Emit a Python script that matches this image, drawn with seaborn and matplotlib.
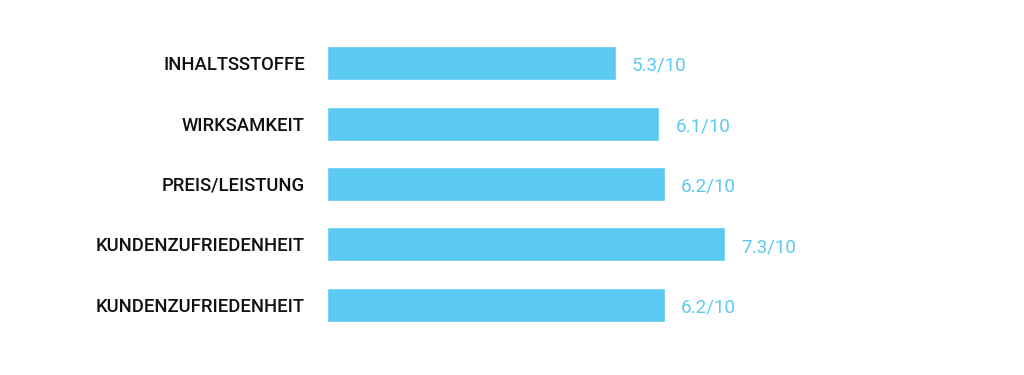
import matplotlib
matplotlib.use("Agg")
import matplotlib.pyplot as plt
import seaborn as sns
import pandas as pd

categories = ["INHALTSSTOFFE", "WIRKSAMKEIT", "PREIS/LEISTUNG",
              "KUNDENZUFRIEDENHEIT", "KUNDENZUFRIEDENHEIT"]
scores = [5.3, 6.1, 6.2, 7.3, 6.2]
value_labels = ["5.3/10", "6.1/10", "6.2/10", "7.3/10", "6.2/10"]

BAR = "#5BC9F1"
TXT = "#5BC9F1"

sns.set_theme(style="white")
plt.rcParams['font.family'] = ['Roboto', 'DejaVu Sans']

df = pd.DataFrame({"pos": [str(i) for i in range(len(categories))],
                   "score": scores})

fig = plt.figure(figsize=(10.24, 3.75), dpi=100)
ax = fig.add_axes([327/1024, 1-335/375, 697/1024, 302/375])
sns.barplot(data=df, x="score", y="pos", orient="h", color=BAR,
            saturation=1, width=0.56, ax=ax)
ax.set_xlim(0, 697/54.5)
ax.set_yticks(range(len(categories)))
ax.set_yticklabels(categories, fontsize=13.3, fontweight="medium", color="#111111")
ax.tick_params(axis="y", length=0, pad=16)
ax.set_xticks([])
ax.set_xlabel("")
ax.set_ylabel("")
for s in ax.spines.values():
    s.set_visible(False)

for i, (v, t) in enumerate(zip(scores, value_labels)):
    ax.annotate(t, xy=(v, i), xytext=(11.5, -2), textcoords="offset points",
                ha="left", va="center", fontsize=13.5, color=TXT)

fig.savefig("out.png", dpi=100, facecolor="white")
